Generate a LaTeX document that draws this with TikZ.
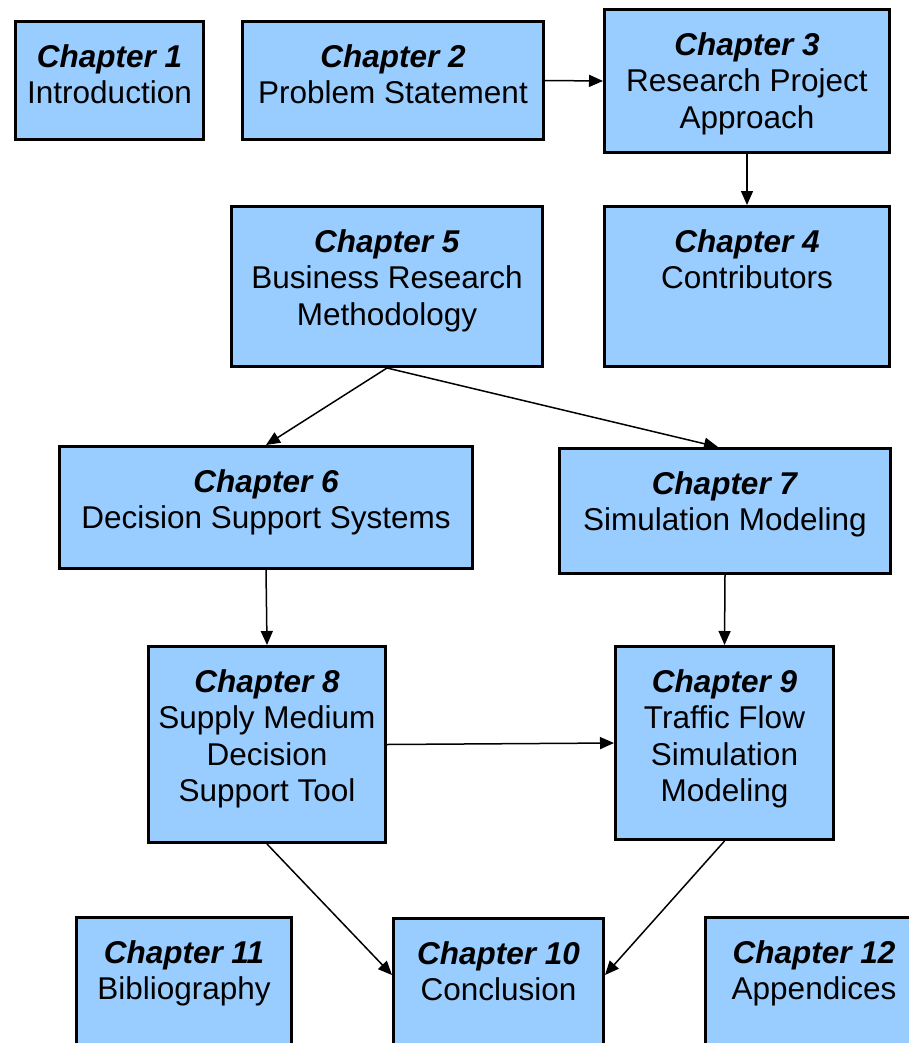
\documentclass[tikz,border=0pt]{standalone}
\usepackage{fontspec}
\setmainfont{Liberation Sans}
\usepackage{tikz}
\usetikzlibrary{arrows.meta,shapes,calc}
\usetikzlibrary{positioning}
\definecolor{chapblue}{RGB}{153,204,255}
\tikzstyle{chap}=[draw=black,fill=chapblue,line width=3pt,rectangle,inner sep=0]
\tikzstyle{ctext}=[inner sep=0,align=center,font=\fontsize{31.5}{36.5}\selectfont]
\tikzstyle{lnk}=[line width=1.5pt,-{Triangle[length=14pt,width=12pt]}]

\begin{document}
\begin{tikzpicture}[x=1pt,y=-1pt]
\useasboundingbox (0,0) rectangle (909,1043);
\clip (0,0) rectangle (909,1043);
% boxes
\node[chap,minimum width=188,minimum height=118] (c1) at (109.5,80.5) {};
\node[chap,minimum width=301,minimum height=118] (c2) at (393,80.5) {};
\node[chap,minimum width=285,minimum height=143] (c3) at (747,81) {};
\node[chap,minimum width=285,minimum height=160] (c4) at (747,286.5) {};
\node[chap,minimum width=311,minimum height=160] (c5) at (387,286.5) {};
\node[chap,minimum width=413,minimum height=122] (c6) at (266,507.5) {};
\node[chap,minimum width=331,minimum height=125] (c7) at (725,511) {};
\node[chap,minimum width=237,minimum height=196] (c8) at (267,744.5) {};
\node[chap,minimum width=218,minimum height=193] (c9) at (724.5,743) {};
\node[chap,minimum width=210,minimum height=170] (c10) at (498.5,1003.5) {};
\node[chap,minimum width=215,minimum height=171] (c11) at (184,1003) {};
\node[chap,minimum width=217,minimum height=171] (c12) at (814,1003) {};
% texts
\node[ctext,below=24pt of c1.north] (t1) {\textbf{\textit{Chapter 1}}\\Introduction};
\node[ctext,below=24pt of c2.north] (t2) {\textbf{\textit{Chapter 2}}\\Problem Statement};
\node[ctext,below=24pt of c3.north] (t3) {\textbf{\textit{Chapter 3}}\\Research Project\\Approach};
\node[ctext,below=24pt of c4.north] (t4) {\textbf{\textit{Chapter 4}}\\Contributors};
\node[ctext,below=24pt of c5.north] (t5) {\textbf{\textit{Chapter 5}}\\Business Research\\Methodology};
\node[ctext,below=24pt of c6.north] (t6) {\textbf{\textit{Chapter 6}}\\Decision Support Systems};
\node[ctext,below=24pt of c7.north] (t7) {\textbf{\textit{Chapter 7}}\\Simulation Modeling};
\node[ctext,below=24pt of c8.north] (t8) {\textbf{\textit{Chapter 8}}\\Supply Medium\\Decision\\Support Tool};
\node[ctext,below=24pt of c9.north] (t9) {\textbf{\textit{Chapter 9}}\\Traffic Flow\\Simulation\\Modeling};
\node[ctext,below=24pt of c10.north] (t10) {\textbf{\textit{Chapter 10}}\\Conclusion};
\node[ctext,below=24pt of c11.north] (t11) {\textbf{\textit{Chapter 11}}\\Bibliography};
\node[ctext,below=24pt of c12.north] (t12) {\textbf{\textit{Chapter 12}}\\Appendices};
% links
\draw[lnk] (c2.east) -- (c3.west);
\draw[lnk] (c3.south) -- (c4.north);
\draw[lnk] (c5.south) -- (c6.north);
\draw[lnk] (c5.south) -- ([xshift=-7pt]c7.north);
\draw[lnk] (c6.south) -- (c8.north);
\draw[lnk] (c7.south) -- (c9.north);
\draw[lnk] (c8.east) -- (c9.west);
\draw[lnk] (c8.south) -- ([yshift=-58pt]c10.north west);
\draw[lnk] (c9.south) -- ([yshift=-58pt]c10.north east);
\end{tikzpicture}
\end{document}
